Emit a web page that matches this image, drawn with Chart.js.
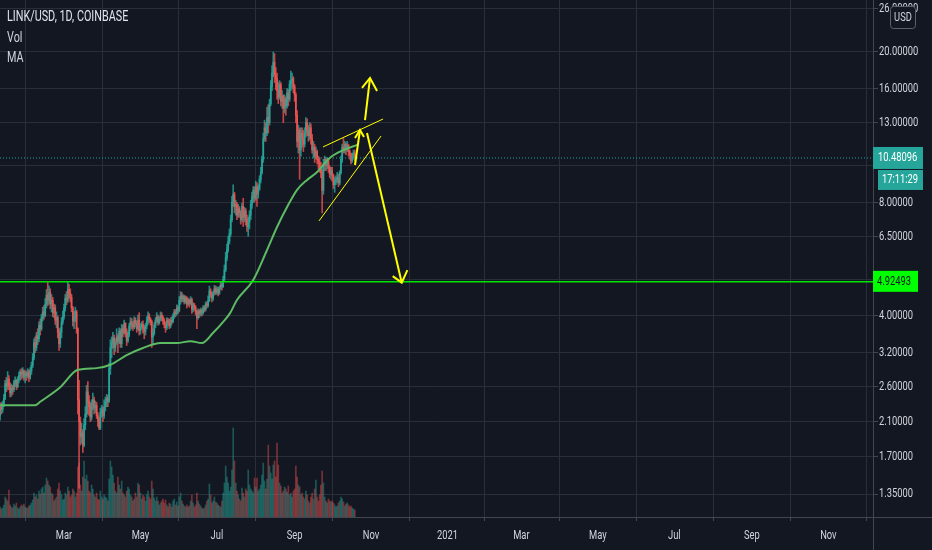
<!DOCTYPE html>
<html>
<head>
<meta charset="utf-8">
<title>LINK/USD</title>
<script src="https://cdn.jsdelivr.net/npm/chart.js@4.4.0/dist/chart.umd.min.js"></script>
<style>
  html, body { margin: 0; padding: 0; background: #131722; }
  canvas { display: block; }
</style>
</head>
<body>
<canvas id="chart-1" width="932" height="550"></canvas>
<script>
// days are counted from 2020-01-01 (Jan 10 = 9, Mar 1 = 60)
const firstDay = 9;
const firstOpen = 2.18;

const closes = [
  2.30,2.26,2.34,2.42,2.65,2.60,2.72,2.62,2.50,2.58,2.55,2.66,2.70,2.60,2.72,2.78,2.84,2.80,2.86,2.76,2.82,2.78,
  2.84,2.75,2.86,2.96,3.10,3.40,3.30,3.55,3.48,3.78,3.70,3.96,4.10,4.02,4.30,4.55,4.40,4.62,4.30,4.40,4.08,4.20,3.90,3.96,3.62,3.38,3.62,3.86,3.98,
  4.20,4.45,4.40,4.70,4.60,4.48,4.20,3.88,3.96,4.10,3.70,2.40,2.10,1.92,1.96,1.82,2.06,2.20,2.52,2.38,2.30,2.16,2.34,2.40,2.28,2.32,2.18,2.12,2.02,2.22,2.26,
  2.18,2.30,2.36,2.42,2.38,2.90,3.30,3.40,3.50,3.30,3.40,3.52,3.42,3.64,3.38,3.70,3.62,3.82,3.60,3.44,3.56,3.76,3.86,3.80,3.74,3.90,3.82,3.70,3.90,3.66,
  3.74,3.80,3.72,3.64,3.76,3.88,4.00,3.92,3.86,3.52,3.60,3.78,3.90,3.98,3.84,3.92,4.02,3.96,3.88,3.80,3.72,3.90,3.84,3.76,3.90,3.86,4.00,4.10,4.06,4.20,4.14,
  4.40,4.52,4.44,4.50,4.36,4.46,4.30,4.40,4.32,4.42,4.16,4.28,4.22,4.10,3.96,4.12,4.06,4.14,4.08,4.20,4.16,4.30,4.26,4.40,4.66,4.56,4.46,4.60,4.72,4.62,
  4.70,4.60,4.74,4.84,4.78,5.00,5.30,5.70,6.00,6.30,6.60,7.20,8.00,8.40,7.80,7.90,7.40,7.70,7.50,7.20,7.80,7.30,7.60,7.20,6.90,7.10,7.40,7.90,8.30,8.60,8.20,
  8.80,8.40,8.70,9.20,9.60,10.40,11.80,12.60,12.20,13.40,13.00,14.60,16.20,17.60,18.80,17.40,17.00,15.80,15.20,16.40,14.80,15.30,14.20,15.00,14.40,15.60,15.00,16.40,16.80,17.00,16.20,
  15.40,13.60,11.60,12.40,11.00,12.20,11.80,11.40,12.20,13.00,12.40,12.00,12.60,11.80,11.00,11.20,10.60,10.90,10.40,10.20,9.90,9.60,8.60,10.10,10.40,10.00,10.30,9.90,9.50,9.70,
  9.40,8.90,9.10,9.20,9.30,9.00,9.60,10.40,11.20,11.00,11.40,11.10,11.30,10.90,10.70,10.30,10.60,10.80,10.48
];

const highs = [
  2.35,2.36,2.38,2.48,2.70,2.75,2.85,2.78,2.66,2.64,2.62,2.70,2.76,2.72,2.76,2.84,2.88,2.90,2.92,2.88,2.86,2.86,
  2.90,2.88,2.92,3.02,3.18,3.48,3.52,3.62,3.70,3.86,3.92,4.04,4.22,4.26,4.45,4.70,4.90,4.80,4.72,4.56,4.48,4.30,4.28,4.10,4.00,3.70,3.72,3.96,4.12,
  4.30,4.56,4.64,4.92,4.85,4.72,4.56,4.24,4.12,4.22,4.14,3.72,2.70,2.16,2.08,2.00,2.14,2.30,2.62,2.68,2.46,2.36,2.40,2.50,2.44,2.38,2.36,2.22,2.16,2.28,2.32,
  2.30,2.40,2.44,2.48,2.46,3.00,3.46,3.52,3.62,3.56,3.48,3.70,3.58,3.72,3.70,3.80,3.78,3.90,3.84,3.70,3.64,3.82,3.96,3.94,3.86,3.98,3.96,3.88,4.02,4.08,
  3.82,3.86,3.88,3.78,3.82,3.98,4.10,4.06,3.96,3.90,3.70,3.84,3.96,4.08,4.02,3.98,4.10,4.08,4.00,3.94,3.86,3.96,3.94,3.92,3.96,3.98,4.06,4.16,4.16,4.28,4.26,
  4.50,4.64,4.62,4.56,4.54,4.52,4.50,4.46,4.44,4.50,4.46,4.34,4.32,4.26,4.14,4.18,4.16,4.20,4.18,4.26,4.26,4.36,4.36,4.52,4.80,4.72,4.62,4.66,4.82,4.80,
  4.78,4.76,4.80,4.92,4.90,5.10,5.46,5.90,6.20,6.50,6.80,7.40,8.30,8.90,8.50,8.10,8.00,7.90,7.80,7.60,7.96,8.20,7.76,7.70,7.40,7.30,7.60,8.10,8.50,8.80,8.80,
  9.10,9.00,8.90,9.40,9.90,10.60,12.20,13.20,13.00,14.30,14.50,15.00,16.80,18.40,20.00,19.80,18.20,17.60,16.60,16.80,16.60,15.80,15.40,15.40,15.20,16.00,15.90,16.80,17.80,17.60,17.20,
  16.40,15.60,14.00,12.80,12.60,12.60,12.60,12.40,12.60,13.40,13.30,12.80,13.00,12.90,12.10,11.60,11.40,11.20,11.00,10.60,10.50,10.20,9.80,10.40,10.60,10.50,10.50,10.40,10.00,9.90,
  9.90,9.50,9.30,9.40,9.60,9.50,9.70,10.60,11.40,11.80,11.60,11.50,11.60,11.40,11.00,10.80,10.80,11.00,11.00
];

const lows = [
  2.12,2.20,2.22,2.30,2.40,2.52,2.55,2.55,2.44,2.45,2.48,2.52,2.60,2.55,2.58,2.66,2.70,2.72,2.74,2.70,2.66,2.70,
  2.74,2.68,2.72,2.80,2.92,3.06,3.20,3.24,3.36,3.42,3.56,3.66,3.88,3.92,3.98,4.20,4.26,4.30,4.18,4.10,3.98,3.96,3.80,3.72,3.50,3.24,3.30,3.50,3.80,
  3.92,4.12,4.28,4.34,4.45,4.36,4.10,3.76,3.70,3.86,3.60,2.20,1.40,1.82,1.84,1.74,1.80,2.00,2.16,2.20,2.18,2.10,2.12,2.26,2.20,2.22,2.14,2.04,2.00,2.00,2.16,
  2.10,2.14,2.24,2.30,2.30,2.36,2.80,3.10,3.28,3.16,3.22,3.36,3.20,3.38,3.30,3.30,3.52,3.58,3.52,3.34,3.40,3.52,3.66,3.70,3.66,3.70,3.74,3.62,3.66,3.56,
  3.58,3.68,3.60,3.48,3.56,3.70,3.80,3.84,3.78,3.30,3.36,3.56,3.72,3.84,3.78,3.80,3.88,3.88,3.80,3.72,3.62,3.68,3.78,3.70,3.72,3.80,3.84,3.94,3.98,4.02,4.06,
  4.10,4.30,4.36,4.36,4.30,4.32,4.20,4.26,4.22,4.28,4.06,4.10,4.14,4.02,3.70,3.92,3.96,4.00,4.00,4.04,4.10,4.12,4.20,4.22,4.36,4.48,4.36,4.40,4.54,4.56,
  4.56,4.52,4.56,4.70,4.68,4.76,4.96,5.24,5.60,5.90,6.20,6.50,7.10,7.80,7.50,7.40,7.20,7.30,7.30,7.00,7.10,6.90,7.10,6.96,6.70,6.50,6.80,7.20,7.70,8.00,8.00,
  8.10,7.80,8.20,8.60,9.00,9.50,10.20,11.60,11.60,12.00,12.20,12.80,14.40,15.80,17.20,16.60,15.90,15.00,14.60,15.00,14.40,14.20,13.00,13.80,13.60,14.20,14.40,14.80,15.80,16.00,15.60,
  14.80,13.00,11.20,10.80,9.20,10.60,11.20,10.90,11.20,11.90,12.00,11.60,11.70,11.40,10.80,10.50,10.20,10.40,10.10,9.80,9.60,9.30,7.50,8.40,9.70,9.70,9.80,9.60,9.30,9.20,
  9.10,8.70,8.50,8.90,9.00,8.80,8.90,9.50,10.20,10.80,10.80,10.70,10.90,10.60,10.40,10.10,10.20,10.40,10.30
];

// volume, rough millions
const volumes = [
  1.0,0.8,0.9,1.2,2.0,1.8,1.6,2.7,1.2,1.0,0.9,1.3,1.1,1.4,0.9,0.8,1.0,1.2,1.1,1.3,1.0,0.9,
  0.9,1.1,1.2,1.4,1.7,2.4,2.0,2.2,1.8,2.6,2.3,2.8,3.0,2.4,3.2,3.9,3.6,3.2,3.0,2.4,2.2,1.6,1.8,2.0,2.8,3.4,2.6,2.2,1.7,
  1.8,2.4,2.2,3.0,2.6,2.0,2.2,2.8,2.6,2.0,2.4,5.0,5.4,3.2,2.6,4.0,5.6,3.8,4.2,3.6,2.6,2.4,3.2,2.8,2.2,2.0,2.4,1.8,1.7,2.6,2.0,
  1.8,2.2,2.0,1.9,1.6,3.8,5.6,5.0,4.2,3.4,2.6,2.4,4.0,3.2,2.8,3.6,2.4,2.2,2.0,2.6,3.0,2.8,2.2,2.0,1.6,1.8,2.4,2.0,3.4,3.2,
  2.4,1.8,2.2,2.0,1.6,2.2,2.6,2.0,1.8,3.6,2.8,1.9,1.6,2.0,1.6,1.2,1.4,1.6,1.8,1.4,1.7,1.2,1.0,1.4,1.3,1.0,1.6,1.8,1.2,1.5,1.1,
  2.0,2.4,1.6,1.3,1.1,1.0,1.2,1.0,1.1,1.6,2.2,1.4,1.0,1.2,2.4,1.6,1.3,1.1,0.9,0.8,0.9,1.2,1.6,1.8,3.3,2.2,1.4,1.6,2.0,1.5,
  1.4,1.2,1.1,1.0,1.6,2.4,3.4,5.1,4.0,3.4,2.6,3.0,4.7,8.9,5.6,3.4,2.6,2.2,1.8,1.6,2.9,2.4,2.0,2.8,2.6,4.7,3.2,2.8,2.6,2.4,3.9,
  3.0,3.9,2.6,2.8,3.2,4.2,5.4,3.6,2.8,3.8,7.2,5.1,4.4,3.8,5.2,5.6,4.0,7.4,5.2,3.4,3.1,2.4,2.6,3.0,2.8,2.5,3.1,2.2,2.4,2.0,2.6,
  2.8,5.1,4.0,3.2,3.0,2.2,2.4,2.0,1.8,2.6,2.2,1.6,1.4,2.0,2.4,1.8,2.8,3.7,2.0,1.6,2.2,3.2,4.6,3.4,2.0,1.6,1.4,1.8,1.6,1.5,
  1.6,1.4,1.2,1.0,1.1,1.4,1.6,2.0,1.8,1.5,1.1,1.3,1.4,1.2,1.0,1.1,0.9,0.8,0.7
];

// moving average
const maDays = [9, 37, 41, 57, 71, 86, 97, 110, 123, 137, 150, 161, 170, 179, 187, 192.5, 198, 211, 222, 230, 238, 246, 254, 262, 272, 283, 294];
const maValues = [2.32, 2.32, 2.37, 2.59, 2.88, 2.91, 2.97, 3.15, 3.29, 3.39, 3.39, 3.43, 3.39, 3.61, 3.86, 4.07, 4.41, 4.98, 5.98, 6.88, 7.77, 8.63, 9.17, 9.62, 10.48, 11.0, 11.35];

const levelPrice = 4.92493;
const lastPrice = 10.48096;
const countdown = '17:11:29';

const priceTicks = [1.35, 1.7, 2.1, 2.6, 3.2, 4, 5, 6.5, 8, 10, 13, 16, 20, 26];
const hiddenTicks = [5, 10];
const monthTicks = [60, 121, 182, 244, 305, 366, 425, 486, 547, 609, 670];
const monthLabels = ['Mar', 'May', 'Jul', 'Sep', 'Nov', '2021', 'Mar', 'May', 'Jul', 'Sep', 'Nov'];

// drawings: [day, price]
const upperTrend = [[266.7, 11.21], [314.6, 13.29]];
const lowerTrend = [[263.5, 7.14], [313, 11.98]];
const smallArrow = [[292.2, 10.04], [296.2, 12.43]];
const smallHead = [[292.2, 11.84], [296.2, 12.43], [299.4, 11.91]];
const upArrow = [[300.2, 13.21], [304.2, 17.07]];
const upHead = [[297.8, 16.06], [304.2, 17.07], [309.8, 15.77]];
const downArrow = [[301.8, 12.20], [329.5, 4.90]];
const downHead = [[322.3, 5.10], [329.5, 4.90], [334, 5.29]];

const xMin = 8.9, xMax = 705.6;
const yMin = 1.174, yMax = 27.46;

if (highs.length !== closes.length || lows.length !== closes.length || volumes.length !== closes.length) {
    throw new Error('lengths ' + closes.length + ' ' + highs.length + ' ' + lows.length + ' ' + volumes.length);
}

const UP = '#26a69a', DOWN = '#ef5350';
const FONT = 'Roboto, sans-serif';
const NARROW = 0.72;   // the screenshot uses a condensed face
const GRID = '#2a2e39';
const TEXT = '#d1d4dc';

let bodies = [], wicks = [], vols = [], colors = [], wickColors = [], volColors = [];
closes.forEach((c, i) => {
    let day = firstDay + i;
    let o = i === 0 ? firstOpen : closes[i - 1];
    bodies.push({ x: day, y: [o, c] });
    wicks.push({ x: day, y: [lows[i], highs[i]] });
    vols.push({ x: day, y: volumes[i] });
    colors.push(c >= o ? UP : DOWN);
    wickColors.push(c >= o ? 'rgba(38,166,154,0.8)' : 'rgba(239,83,80,0.8)');
    volColors.push(c >= o ? 'rgba(38,166,154,0.45)' : 'rgba(239,83,80,0.45)');
});

const pts = arr => arr.map(p => ({ x: p[0], y: p[1] }));

function drawing(arr, width) {
    return {
        type: 'line', data: pts(arr), borderColor: '#ffff00', borderWidth: width,
        pointRadius: 0, order: 0, yAxisID: 'y'
    };
}

function narrowText(c, text, x, y, size, align) {
    c.save();
    c.font = size + 'px ' + FONT;
    c.textBaseline = 'middle';
    c.textAlign = align || 'left';
    c.translate(x, y);
    c.scale(NARROW, 1);
    c.fillText(text, 0, 0);
    c.restore();
}

const overlay = {
    id: 'overlay',
    beforeDraw(chart) {
        const c = chart.ctx;
        c.save();
        c.fillStyle = '#131722';
        c.fillRect(0, 0, chart.width, chart.height);
        c.restore();
    },
    afterDraw(chart) {
        const c = chart.ctx, a = chart.chartArea, x = chart.scales.x, y = chart.scales.y;
        c.save();
        c.strokeStyle = '#434651';
        c.lineWidth = 1;
        c.beginPath();
        c.moveTo(Math.round(a.right) + 0.5, 0);
        c.lineTo(Math.round(a.right) + 0.5, chart.height);
        c.moveTo(0, Math.round(a.bottom) + 0.5);
        c.lineTo(chart.width, Math.round(a.bottom) + 0.5);
        c.stroke();

        // axis labels
        c.fillStyle = TEXT;
        priceTicks.forEach(v => {
            if (hiddenTicks.includes(v)) return;
            narrowText(c, v.toFixed(5), a.right + 6, y.getPixelForValue(v), 13);
        });
        monthTicks.forEach((d, i) => {
            narrowText(c, monthLabels[i], x.getPixelForValue(d), a.bottom + 19, 13, 'center');
        });

        // legend
        c.fillStyle = '#e0e3eb';
        narrowText(c, 'LINK/USD, 1D, COINBASE', 7, 17, 15);
        c.fillStyle = TEXT;
        narrowText(c, 'Vol', 7, 38, 15);
        narrowText(c, 'MA', 7, 58, 15);

        // last price + countdown
        let yl = y.getPixelForValue(lastPrice);
        c.fillStyle = UP;
        c.fillRect(a.right, yl - 11, 50, 22);
        c.fillRect(a.right + 5, yl + 12, 45, 20);
        c.fillStyle = '#ffffff';
        narrowText(c, lastPrice.toFixed(5), a.right + 5, yl, 13);
        narrowText(c, countdown, a.right + 9, yl + 22, 13);

        // level box
        let yg = y.getPixelForValue(levelPrice);
        c.fillStyle = '#00ff00';
        c.fillRect(a.right, yg - 11, 45, 21);
        c.fillStyle = '#131722';
        narrowText(c, levelPrice.toFixed(5), a.right + 4, yg, 13);

        // currency button
        c.fillStyle = '#131722';
        c.strokeStyle = '#5d606b';
        c.beginPath();
        c.roundRect(890.5, 6.5, 25, 22, 3);
        c.fill();
        c.stroke();
        c.fillStyle = TEXT;
        narrowText(c, 'USD', 903, 18, 13, 'center');
        c.restore();
    }
};

const ctx = document.getElementById('chart-1').getContext('2d');

const chart_1 = new Chart(ctx, {
    data: {
        datasets: [
            drawing(upperTrend, 1),
            drawing(lowerTrend, 1),
            drawing(smallArrow, 2),
            drawing(smallHead, 2),
            drawing(upArrow, 2),
            drawing(upHead, 2),
            drawing(downArrow, 2),
            drawing(downHead, 2),
            {
                type: 'line', label: 'level',
                data: [{ x: xMin, y: levelPrice }, { x: xMax, y: levelPrice }],
                borderColor: '#00e600', borderWidth: 1.5, pointRadius: 0, order: 1
            },
            {
                type: 'line', label: 'MA',
                data: maDays.map((d, i) => ({ x: d, y: maValues[i] })),
                borderColor: '#5dbb63', borderWidth: 2, pointRadius: 0,
                cubicInterpolationMode: 'monotone', order: 2
            },
            {
                type: 'line', label: 'last',
                data: [{ x: xMin, y: lastPrice }, { x: xMax, y: lastPrice }],
                borderColor: UP, borderWidth: 1, borderDash: [1, 2], pointRadius: 0, order: 3
            },
            {
                type: 'bar', label: 'body', data: bodies, backgroundColor: colors,
                barThickness: 1, grouped: false, minBarLength: 1, order: 4
            },
            {
                type: 'bar', label: 'wick', data: wicks, backgroundColor: wickColors,
                barThickness: 1, grouped: false, order: 5
            },
            {
                type: 'bar', label: 'Vol', data: vols, backgroundColor: volColors,
                barThickness: 1, grouped: false, yAxisID: 'yv', order: 6
            }
        ]
    },
    options: {
        responsive: false,
        animation: false,
        layout: { padding: 0 },
        scales: {
            x: {
                type: 'linear', min: xMin, max: xMax, offset: false,
                afterBuildTicks: s => { s.ticks = monthTicks.map(v => ({ value: v })); },
                afterFit: s => { s.height = 33; s.paddingLeft = 0; s.paddingRight = 0; },
                ticks: { display: false },
                grid: { color: GRID, tickLength: 4, tickColor: '#434651' },
                border: { display: false }
            },
            y: {
                type: 'logarithmic', position: 'right', min: yMin, max: yMax,
                afterBuildTicks: s => { s.ticks = priceTicks.map(v => ({ value: v })); },
                afterFit: s => { s.width = 59; s.paddingTop = 0; s.paddingBottom = 0; },
                ticks: { display: false },
                grid: { color: GRID, tickLength: 5, tickColor: '#434651' },
                border: { display: false }
            },
            yv: {
                type: 'linear', display: false, min: 0, max: 51.7
            }
        },
        plugins: {
            legend: { display: false },
            tooltip: { enabled: false }
        }
    },
    plugins: [overlay]
});
</script>
</body>
</html>
